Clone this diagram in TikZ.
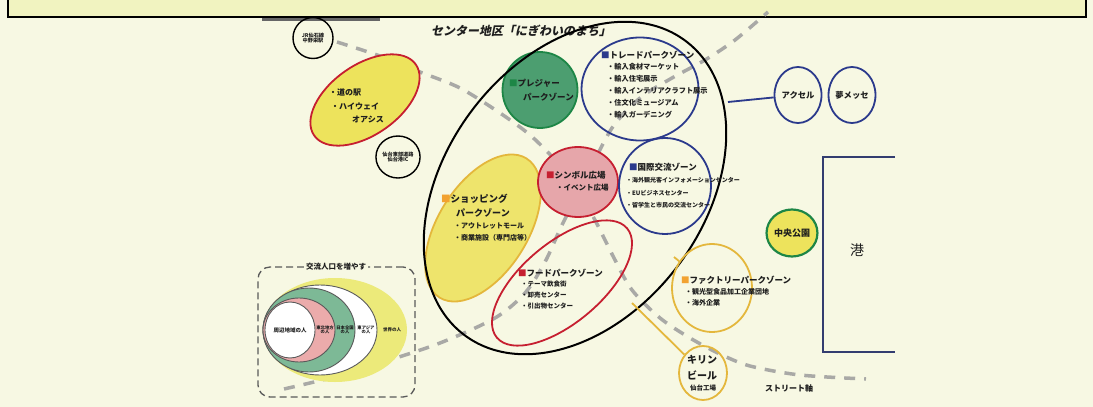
\documentclass[tikz,border=0pt]{standalone}
\usepackage{fontspec}
\setmainfont{Noto Sans CJK JP}
\newfontfamily\jpslant{Noto Sans CJK JP}[FakeSlant=0.2]
\usetikzlibrary{shapes.geometric}
\definecolor{bg}{HTML}{F7F8E3}
\definecolor{banner}{HTML}{F1F3C0}
\definecolor{ylw}{HTML}{EDE35C}
\definecolor{shopy}{HTML}{EEE46C}
\definecolor{rd}{HTML}{C61F30}
\definecolor{grn}{HTML}{4C9E70}
\definecolor{grnline}{HTML}{1D8646}
\definecolor{pnk}{HTML}{E6A6AA}
\definecolor{nvy}{HTML}{2B3A8C}
\definecolor{gold}{HTML}{E4B73C}
\definecolor{dashc}{HTML}{A9A9A6}
\definecolor{txt}{HTML}{1E1E1E}
\definecolor{harbor}{HTML}{333D70}
\definecolor{nylw}{HTML}{ECEA7A}
\definecolor{ngrn}{HTML}{7DB996}
\definecolor{npnk}{HTML}{EBABAB}
\definecolor{orng}{HTML}{F2A230}
\definecolor{boxc}{HTML}{5A5A5A}
\newcommand{\fsz}[1]{\fontsize{#1}{#1}\selectfont}
\tikzset{
  zone/.style={ellipse, inner sep=0pt, line width=1.8pt},
  lbl/.style={anchor=west, inner sep=0pt, text=txt},
  ctr/.style={inner sep=0pt, text=txt, align=center},
  smallc/.style={ellipse, draw=black, line width=1.4pt, inner sep=0pt, align=center, text=txt, font={\bfseries\fsz{5.2}}},
  streetaxis/.style={draw=dashc, line width=3.5pt, dash pattern=on 11pt off 9pt},
  nest/.style={ellipse, inner sep=0pt, draw=boxc, line width=0.9pt},
}
\begin{document}
\begin{tikzpicture}[x=1pt,y=-1pt]
\useasboundingbox (0,0) rectangle (1093,407);
\fill[bg] (0,0) rectangle (1093,407);
% banner
\draw[fill=banner, line width=1.6pt] (8,-10) rectangle (1086,17);
\draw[line width=2.5pt, black!60] (262,19.5) -- (380,19.5);
% street axes (dashed)
\draw[streetaxis] plot[smooth] coordinates {(337,42) (380,56) (420,72) (460,88) (500,113) (530,135) (555,160) (578,190) (596,222) (614,258) (632,290) (660,318) (690,338) (720,354) (750,366) (800,375) (866,379)};
\draw[streetaxis] plot[smooth] coordinates {(284,389) (330,378) (380,363) (440,343) (495,318) (525,293) (545,262) (562,225) (585,180) (612,128) (640,98) (672,78) (705,60) (735,40) (768,12)};
% title
\node[inner sep=0pt, text=txt, font={\jpslant\bfseries\fsz{12}}] (title) at (521,31) {センター地区「にぎわいのまち」};
% small circles
\node[smallc, minimum width=40pt, minimum height=41pt] (jr) at (313,38) {JR仙石線\\中野栄駅};
\node[smallc, minimum width=38pt, minimum height=42pt] (ic) at (398,157) {仙台東部道路\\仙台港IC};
% michi no eki
\node[zone, draw=rd, fill=ylw, minimum width=124pt, minimum height=70pt, rotate=35] (michi) at (365,100) {};
\node[lbl, font={\bfseries\fsz{8}}] (m1) at (329,92) {・道の駅};
\node[lbl, font={\bfseries\fsz{8}}] (m2) at (331,106) {・ハイウェイ};
\node[lbl, font={\bfseries\fsz{8}}] (m3) at (352,120) {オアシス};
% shopping
\node[zone, draw=gold, fill=shopy, minimum width=164pt, minimum height=90pt, rotate=58] (shop) at (483,228) {};
% symbol
\node[zone, draw=rd, fill=pnk, minimum width=80pt, minimum height=70pt] (sym) at (578,182) {};
% pleasure
\node[zone, draw=grnline, fill=grn, minimum width=75pt, minimum height=76pt] (pleas) at (540,90) {};
% trade
\node[zone, draw=nvy, minimum width=117pt, minimum height=103pt] (trade) at (640,89) {};
% international
\node[zone, draw=nvy, minimum width=92pt, minimum height=96pt] (intl) at (665,186) {};
% food
\node[zone, draw=rd, minimum width=170pt, minimum height=80pt, rotate=40] (food) at (562,283) {};
% center big ellipse
\node[ellipse, inner sep=0pt, draw=black, line width=2pt, minimum width=368pt, minimum height=258pt, rotate=53] (center) at (575,188) {};
% factory & kirin
\node[zone, draw=gold, minimum width=80pt, minimum height=88pt] (fact) at (712,288) {};
\node[zone, draw=gold, minimum width=48pt, minimum height=54pt] (kirin) at (703,373) {};
\coordinate (cf) at (674,257);
\coordinate (ck) at (632,303);
\draw[gold, line width=1.8pt] (cf) -- (fact);
\draw[gold, line width=1.8pt] (ck) -- (kirin);
% axel / yume messe
\node[zone, draw=nvy, minimum width=47pt, minimum height=56pt, font={\bfseries\fsz{8.3}}, text=txt] (axel) at (798,95) {アクセル};
\node[zone, draw=nvy, minimum width=45pt, minimum height=56pt, font={\bfseries\fsz{8.3}}, text=txt] (yume) at (852,95) {夢メッセ};
\coordinate (ca) at (728,102);
\draw[nvy, line width=1.8pt] (ca) -- (axel);
% park
\node[zone, draw=grnline, line width=2.2pt, fill=ylw, minimum width=48pt, minimum height=47pt, font={\bfseries\fsz{9}}, text=txt] (park) at (792,233) {中央公園};
% harbor
\draw[harbor, line width=2.5pt] (895,157) -- (823,157) -- (823,352) -- (895,352);
\node[inner sep=0pt, text=txt, font={\fsz{14}}] (port) at (857,250) {港};
\node[inner sep=0pt, text=txt, font={\bfseries\fsz{8}}] (street) at (789,388) {ストリート軸};
% texts: pleasure
\node[lbl, font={\bfseries\fsz{8.5}}] (p1) at (509,83) {{\color{grnline}■}プレジャー};
\node[lbl, font={\bfseries\fsz{8.5}}] (p2) at (523,97) {パークゾーン};
% trade
\node[lbl, font={\bfseries\fsz{8.5}}] (t0) at (601,55) {{\color{nvy}■}トレードパークゾーン};
\node[lbl, font={\bfseries\fsz{7.2}}] (t1) at (607,67) {・輸入食材マーケット};
\node[lbl, font={\bfseries\fsz{7.2}}] (t2) at (607,79) {・輸入住宅展示};
\node[lbl, font={\bfseries\fsz{7.2}}] (t3) at (607,91) {・輸入インテリアクラフト展示};
\node[lbl, font={\bfseries\fsz{7.2}}] (t4) at (607,103) {・住文化ミュージアム};
\node[lbl, font={\bfseries\fsz{7.2}}] (t5) at (607,115) {・輸入ガーデニング};
% international
\node[lbl, font={\bfseries\fsz{8.5}}] (i0) at (629,167) {{\color{nvy}■}国際交流ゾーン};
\node[lbl, font={\bfseries\fsz{6}}] (i1) at (626,180) {・海外観光客インフォメーションセンター};
\node[lbl, font={\bfseries\fsz{6}}] (i2) at (626,193) {・EUビジネスセンター};
\node[lbl, font={\bfseries\fsz{6}}] (i3) at (626,205) {・留学生と市民の交流センター};
% symbol
\node[lbl, font={\bfseries\fsz{8.5}}] (s1) at (546,175) {{\color{rd}■}シンボル広場};
\node[lbl, font={\bfseries\fsz{7.5}}] (s2) at (556,188) {・イベント広場};
% shopping
\node[lbl, font={\bfseries\fsz{9.5}}] (h1) at (441,199) {{\color{orng}■}ショッピング};
\node[lbl, font={\bfseries\fsz{9}}] (h2) at (456,213) {パークゾーン};
\node[lbl, font={\bfseries\fsz{7}}] (h3) at (454,226) {・アウトレットモール};
\node[lbl, font={\bfseries\fsz{7}}] (h4) at (454,238) {・商業施設（専門店等）};
% food
\node[lbl, font={\bfseries\fsz{8.5}}] (f0) at (518,273) {{\color{rd}■}フードパークゾーン};
\node[lbl, font={\bfseries\fsz{6.5}}] (f1) at (521,284) {・テーマ飲食街};
\node[lbl, font={\bfseries\fsz{6.5}}] (f2) at (521,295) {・卸売センター};
\node[lbl, font={\bfseries\fsz{6.5}}] (f3) at (521,306) {・引出物センター};
% factory
\node[lbl, font={\bfseries\fsz{8.5}}] (k0) at (681,280) {{\color{orng}■}ファクトリーパークゾーン};
\node[lbl, font={\bfseries\fsz{7}}] (k1) at (685,292) {・観光型食品加工企業団地};
\node[lbl, font={\bfseries\fsz{7}}] (k2) at (685,303) {・海外企業};
% kirin
\node[ctr, font={\bfseries\fsz{10}}] (kr1) at (702,360) {キリン};
\node[ctr, font={\bfseries\fsz{10}}] (kr2) at (702,375) {ビール};
\node[ctr, font={\bfseries\fsz{6.5}}] (kr3) at (703,388) {仙台工場};
% exchange population box
\node[draw=boxc, line width=1.3pt, dash pattern=on 7pt off 4pt, rounded corners=12pt, minimum width=157pt, minimum height=130pt, inner sep=0pt] (kbox) at (336.5,332) {};
\node[inner sep=2pt, fill=bg, text=txt, font={\bfseries\fsz{7.5}}] (kt) at (336,267) {交流人口を増やす};
\node[ellipse, inner sep=0pt, fill=nylw, minimum width=144pt, minimum height=104pt] (ny) at (335,330) {};
\node[nest, fill=white, minimum width=114pt, minimum height=90pt] (nw) at (320,330) {};
\node[nest, fill=ngrn, minimum width=92pt, minimum height=84pt] (ng) at (309,330) {};
\node[nest, fill=npnk, minimum width=72pt, minimum height=64pt] (np) at (299,330) {};
\node[nest, fill=white, minimum width=50pt, minimum height=56pt] (ni) at (290,330) {};
\node[ctr, font={\bfseries\fsz{5.5}}] (l1) at (290,330) {周辺地域の人};
\node[ctr, font={\bfseries\fsz{4.3}}] (l2) at (325,330) {東北地方\\の人};
\node[ctr, font={\bfseries\fsz{4.3}}] (l3) at (345,330) {日本全国\\の人};
\node[ctr, font={\bfseries\fsz{4.3}}] (l4) at (366,330) {東アジア\\の人};
\node[ctr, font={\bfseries\fsz{4.5}}] (l5) at (392,330) {世界の人};
\end{tikzpicture}
\end{document}
